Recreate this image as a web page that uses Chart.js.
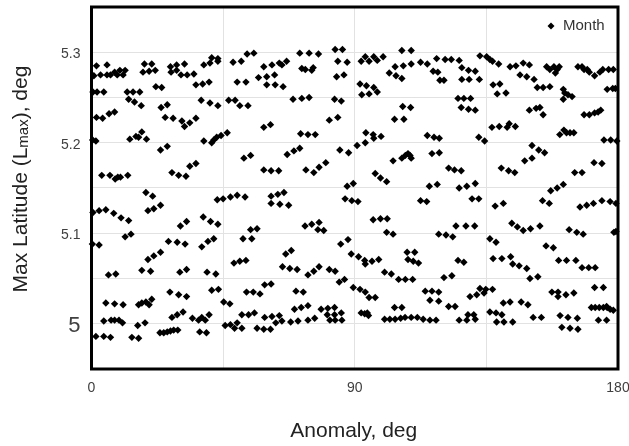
<!DOCTYPE html>
<html><head><meta charset="utf-8">
<script src="https://cdn.jsdelivr.net/npm/chart.js@4.4.1/dist/chart.umd.min.js"></script>
<style>html,body{margin:0;padding:0;background:#fff;}</style>
</head><body>
<canvas id="c" width="629" height="446"></canvas>
<script>
const seriesName = 'Month';
const xTitle = 'Anomaly, deg';
const yTitleParts = ['Max Latitude (L', 'max', '), deg'];
const xTickLabels = ['0', '90', '180'];
const yTickLabels = ['5', '5.1', '5.2', '5.3'];
const xGridValues = [0, 45, 90, 135, 180];
const yGridValues = [4.95, 5.00, 5.05, 5.10, 5.15, 5.20, 5.25, 5.30, 5.35];

// [anomaly (deg), max latitude (deg)] — anomaly 0..57
const pointsLeft = [
[1.7,5.285],[5.3,5.286],[0.8,5.274],[3.1,5.275],[5.3,5.275],[6.5,5.275],[7.9,5.278],[8.8,5.275],[9.7,5.280],[10.8,5.275],[11.5,5.280],[18.1,5.287],[20.6,5.287],[17.6,5.278],[19.7,5.279],[21.8,5.280],[27.0,5.284],[29.1,5.286],[31.8,5.287],[27.2,5.278],[29.1,5.280],[30.6,5.275],[32.7,5.275],[35.0,5.276],[38.4,5.286],[40.5,5.288],[41.1,5.294],[43.2,5.293],[43.2,5.290],[48.4,5.289],[51.2,5.290],[53.2,5.298],[55.5,5.299],
[0.5,5.256],[1.9,5.256],[4.2,5.256],[12.2,5.256],[14.2,5.256],[16.5,5.256],[22.0,5.262],[24.0,5.261],[35.7,5.264],[38.0,5.265],[40.2,5.267],[49.8,5.267],[52.8,5.267],
[12.7,5.248],[14.7,5.245],[17.0,5.241],[23.8,5.239],[25.9,5.242],[37.5,5.247],[40.5,5.244],[43.2,5.241],[46.9,5.247],[49.1,5.247],[50.7,5.241],[53.5,5.241],
[1.7,5.228],[3.8,5.227],[6.0,5.232],[7.9,5.234],[25.2,5.228],[27.9,5.227],[30.9,5.224],[31.8,5.218],[33.6,5.222],[35.7,5.227],
[0.4,5.203],[1.5,5.202],[13.1,5.204],[15.2,5.207],[16.1,5.206],[17.2,5.212],[18.8,5.204],[23.6,5.192],[25.9,5.196],[38.4,5.202],[41.1,5.200],[41.8,5.203],[42.8,5.206],[44.3,5.208],[46.4,5.211],[52.1,5.183],[54.4,5.186],
[3.5,5.164],[6.3,5.164],[8.1,5.160],[9.0,5.162],[9.9,5.162],[12.4,5.164],[27.5,5.167],[29.8,5.164],[32.3,5.163],[33.6,5.174],[35.7,5.177],
[18.6,5.145],[20.9,5.141],[19.3,5.125],[21.3,5.127],[23.6,5.131],
[0.5,5.123],[2.6,5.125],[4.9,5.126],[7.6,5.122],[10.1,5.117],[12.7,5.114],
[43.0,5.137],[45.0,5.138],[47.5,5.140],[49.8,5.142],[52.5,5.140],
[30.4,5.108],[32.5,5.113],[38.2,5.118],[40.7,5.113],[43.2,5.110],
[11.5,5.096],[13.5,5.099],[0.3,5.088],[2.6,5.087],[26.3,5.091],[29.3,5.090],[32.0,5.088],[37.7,5.085],[39.8,5.091],[41.8,5.094],[51.8,5.094],[54.8,5.094],[54.4,5.104],[56.6,5.105],
[19.3,5.071],[21.3,5.075],[23.6,5.079],[17.2,5.059],[20.2,5.058],[5.8,5.054],[8.3,5.055],[30.2,5.057],[32.5,5.060],[39.5,5.057],[42.5,5.055],[48.7,5.067],[50.7,5.069],[52.8,5.070],
[26.8,5.035],[29.8,5.032],[32.5,5.030],[41.1,5.037],[43.4,5.038],[53.0,5.035],
[4.9,5.023],[7.9,5.022],[10.8,5.021],[16.1,5.021],[17.2,5.023],[18.6,5.024],[19.7,5.021],[20.6,5.027],[45.2,5.024],[47.3,5.022],
[27.5,5.007],[29.3,5.010],[31.3,5.013],[34.5,5.006],[36.6,5.004],[37.7,5.007],[38.9,5.004],[40.2,5.010],[51.4,5.010],[53.7,5.010],
[4.2,5.003],[6.7,5.004],[7.9,5.004],[9.4,5.004],[10.6,5.001],[15.8,4.998],[18.3,5.001],
[45.7,4.998],[47.5,4.999],[48.9,4.995],[49.8,5.001],[51.4,4.995],
[23.4,4.990],[24.7,4.990],[25.9,4.991],[27.0,4.992],[28.1,4.993],[29.5,4.993],[37.0,4.991],[39.3,4.990],
[1.5,4.986],[4.2,4.986],[6.5,4.985],[13.8,4.985],[16.1,4.984]
];

// anomaly 55..119
const pointsMiddle = [
[71.2,5.299],[74.4,5.299],[77.6,5.298],[83.3,5.303],[85.8,5.303],[84.2,5.290],[87.4,5.289],[106.1,5.302],[109.3,5.302],[92.2,5.290],[93.6,5.295],[94.9,5.290],[96.5,5.295],[97.7,5.291],[99.7,5.295],[103.8,5.284],[106.6,5.285],[109.3,5.287],[112.5,5.289],[114.8,5.287],[118.0,5.293],
[58.9,5.284],[61.7,5.286],[64.2,5.288],[65.1,5.286],[66.7,5.290],[57.1,5.272],[59.9,5.273],[62.6,5.275],[59.9,5.264],[62.8,5.264],[65.5,5.262],[71.9,5.282],[73.1,5.281],[75.8,5.283],[75.3,5.280],[83.8,5.273],[86.3,5.275],[101.8,5.277],[104.1,5.274],[106.1,5.271],[91.8,5.265],[94.0,5.263],[96.5,5.261],[97.7,5.256],[94.9,5.254],[92.4,5.253],[68.9,5.248],[71.9,5.249],[74.4,5.250],[83.1,5.248],[85.4,5.246],[106.4,5.240],[109.1,5.239],[58.9,5.217],[61.2,5.220],[81.3,5.225],[84.2,5.228],[103.6,5.226],[106.8,5.226],
[71.5,5.210],[74.0,5.209],[76.5,5.209],[93.8,5.211],[96.3,5.209],[96.5,5.205],[99.0,5.207],[93.6,5.200],[90.8,5.197],[114.8,5.208],[117.1,5.206],[118.9,5.205],[66.9,5.187],[69.2,5.191],[71.2,5.194],[84.9,5.192],[87.9,5.189],[103.1,5.180],[106.1,5.183],[107.3,5.186],[108.2,5.188],[108.9,5.186],[109.3,5.183],[116.4,5.188],[118.9,5.189],
[58.9,5.170],[61.4,5.169],[64.0,5.169],[73.3,5.170],[76.0,5.167],[77.8,5.173],[80.1,5.178],[97.0,5.166],[98.8,5.161],[100.9,5.157],[87.4,5.152],[89.5,5.155],[115.5,5.152],[118.2,5.154],
[61.4,5.141],[63.7,5.143],[65.8,5.145],[61.4,5.133],[64.4,5.132],[67.4,5.131],[86.7,5.138],[89.0,5.136],[91.1,5.135],[112.5,5.136],[114.6,5.135],
[73.0,5.108],[75.3,5.110],[77.8,5.112],[77.4,5.104],[79.4,5.103],[96.3,5.115],[98.8,5.116],[101.1,5.116],[100.9,5.101],[103.1,5.099],[85.2,5.088],[87.7,5.093],[118.7,5.099],
[66.4,5.077],[68.3,5.081],[88.8,5.077],[91.3,5.074],[93.4,5.070],[93.6,5.066],[95.9,5.069],[98.2,5.071],[107.9,5.079],[110.5,5.079],[108.2,5.071],[110.0,5.069],[111.8,5.067],
[65.3,5.063],[67.8,5.061],[70.3,5.060],[74.0,5.054],[76.0,5.058],[77.8,5.063],[81.3,5.060],[83.3,5.058],[100.2,5.057],[102.5,5.055],[84.7,5.046],[86.5,5.049],[105.0,5.049],[107.3,5.049],[109.8,5.049],
[55.3,5.035],[57.6,5.033],[59.2,5.043],[61.4,5.044],[69.9,5.036],[72.4,5.035],[89.5,5.040],[91.8,5.038],[93.6,5.035],[94.9,5.029],[97.0,5.029],[114.1,5.036],[116.4,5.036],[118.7,5.035],[115.7,5.026],[118.7,5.025],
[55.7,5.012],[59.2,5.007],[61.7,5.008],[64.2,5.009],[63.0,5.001],[65.1,5.003],[56.6,4.995],[58.9,4.994],[61.2,4.994],[69.4,5.016],[71.7,5.018],[74.0,5.020],[68.1,5.002],[70.6,5.003],[74.0,5.004],[76.3,5.006],
[78.5,5.016],[80.8,5.017],[83.1,5.018],[80.6,5.010],[81.5,5.004],[83.3,5.004],[85.6,5.004],[83.1,5.010],[85.4,5.012],[92.2,5.012],[93.4,5.011],[94.3,5.012],[94.7,5.009],[103.6,5.018],[106.1,5.018],
[100.2,5.005],[102.0,5.005],[103.8,5.005],[105.7,5.006],[107.2,5.007],[109.3,5.007],[111.4,5.007],[113.4,5.005],[115.7,5.004],[117.8,5.004]
];

// anomaly 116..180
const pointsRight = [
[120.9,5.292],[123.0,5.292],[125.7,5.291],[116.8,5.279],[118.4,5.278],[119.1,5.269],[120.5,5.269],[126.6,5.283],[128.9,5.280],[131.2,5.279],[126.6,5.270],[129.1,5.270],[132.6,5.270],[132.8,5.296],[135.1,5.295],[136.2,5.292],[137.1,5.290],[139.2,5.287],[137.3,5.264],[139.6,5.265],[138.7,5.254],[141.7,5.255],
[143.1,5.284],[145.1,5.285],[147.6,5.288],[149.7,5.286],[146.5,5.275],[148.8,5.273],[151.3,5.270],[152.4,5.261],[154.4,5.261],[156.7,5.262],[155.6,5.284],[156.7,5.281],[158.1,5.284],[159.2,5.281],[159.9,5.284],[158.6,5.277],
[161.3,5.259],[161.8,5.255],[162.9,5.253],[164.3,5.251],[161.3,5.248],[166.3,5.284],[167.7,5.284],[168.4,5.281],[169.5,5.281],[170.2,5.278],[172.0,5.274],[173.8,5.278],[174.8,5.281],[176.8,5.281],[178.4,5.281],[176.3,5.259],[178.2,5.260],[179.1,5.260],
[125.3,5.249],[127.3,5.249],[129.6,5.249],[126.4,5.239],[128.9,5.237],[131.2,5.236],[149.7,5.236],[152.0,5.238],[153.3,5.239],[154.4,5.231],[168.4,5.231],[170.2,5.231],[172.0,5.233],[173.2,5.234],[174.1,5.236],[136.9,5.217],[139.4,5.218],[142.8,5.221],[144.9,5.218],[142.1,5.217],
[160.1,5.209],[161.5,5.214],[162.4,5.211],[163.6,5.211],[164.9,5.211],[175.2,5.203],[177.5,5.203],[179.6,5.202],[132.4,5.206],[134.4,5.202],[150.6,5.197],[152.9,5.192],[154.9,5.189],[148.1,5.180],[150.6,5.183],
[122.1,5.172],[124.1,5.170],[126.4,5.169],[140.1,5.172],[142.6,5.169],[144.7,5.167],[165.2,5.167],[167.7,5.167],[171.8,5.178],[174.5,5.177],
[125.7,5.150],[128.3,5.152],[131.2,5.155],[157.0,5.147],[159.2,5.150],[161.3,5.154],[130.1,5.138],[132.4,5.138],[138.0,5.130],[140.8,5.133],[154.2,5.136],[156.5,5.133],[167.0,5.129],[169.3,5.131],[171.6,5.133],[174.5,5.136],[177.3,5.135],[179.3,5.133],
[124.6,5.108],[128.0,5.108],[131.0,5.108],[121.2,5.098],[123.5,5.096],[143.7,5.111],[145.6,5.107],[147.6,5.103],[150.1,5.105],[153.3,5.108],[163.3,5.104],[165.9,5.101],[168.1,5.099],[178.6,5.101],[179.3,5.102],[136.2,5.094],[138.3,5.090],[155.4,5.086],[157.9,5.084],
[125.3,5.070],[127.3,5.068],[137.3,5.072],[140.3,5.072],[143.3,5.074],[144.0,5.066],[146.2,5.064],[148.8,5.061],[149.9,5.050],[152.6,5.052],[159.7,5.070],[162.4,5.070],[165.6,5.070],[167.7,5.062],[170.0,5.062],[172.2,5.062],[120.5,5.051],[123.2,5.053],
[122.1,5.019],[124.3,5.019],[129.4,5.030],[131.7,5.032],[132.8,5.039],[134.2,5.034],[134.8,5.038],[137.1,5.038],[140.8,5.023],[143.1,5.024],[146.9,5.024],[149.2,5.021],[157.4,5.035],[159.5,5.035],[159.5,5.030],[162.2,5.032],[164.9,5.034],[172.0,5.040],[175.0,5.040],
[170.9,5.018],[172.2,5.018],[173.6,5.018],[175.0,5.018],[176.3,5.018],[177.3,5.016],[178.4,5.015],[176.1,5.019],[136.2,5.013],[138.3,5.012],[140.3,5.010],[151.0,5.007],[153.8,5.007],[160.2,5.009],[162.9,5.007],[166.1,5.006],
[125.7,5.004],[128.3,5.004],[128.7,5.010],[130.7,5.010],[131.2,5.005],[138.5,5.002],[141.0,5.002],[144.0,5.002],[160.8,4.996],[163.6,4.995],[166.3,4.994],[173.3,5.004],[176.1,5.004]
];

const FONT = "'Liberation Sans', Arial, Helvetica, sans-serif";
const monthData = [...pointsLeft, ...pointsMiddle, ...pointsRight].map(p => ({x: p[0], y: p[1]}));

function yLabelFor(v) {
  for (const t of yTickLabels) { if (Math.abs(parseFloat(t) - v) < 1e-6) return t; }
  return '';
}

const framePlugin = {
  id: 'frameAndTitles',
  beforeDatasetsDraw(chart) {
    const {ctx, chartArea: a} = chart;
    ctx.save();
    ctx.strokeStyle = '#000';
    ctx.lineWidth = 3;
    ctx.strokeRect(a.left, a.top, a.right - a.left, a.bottom - a.top);
    ctx.restore();
  },
  afterDraw(chart) {
    const {ctx, chartArea: a} = chart;
    ctx.save();
    ctx.fillStyle = '#222';
    ctx.font = '21px ' + FONT;
    ctx.textAlign = 'center';
    ctx.textBaseline = 'middle';
    ctx.fillText(xTitle, (a.left + a.right) / 2 - 1, 431);
    const sizes = [21, 15, 21];
    const widths = yTitleParts.map((t, i) => { ctx.font = sizes[i] + 'px ' + FONT; return ctx.measureText(t).width; });
    const total = widths.reduce((s, w) => s + w, 0);
    ctx.translate(19, 179);
    ctx.rotate(-Math.PI / 2);
    ctx.textAlign = 'left';
    ctx.textBaseline = 'alphabetic';
    let xo = -total / 2;
    yTitleParts.forEach((t, i) => {
      ctx.font = sizes[i] + 'px ' + FONT;
      ctx.fillText(t, xo, i === 1 ? 9 : 7.5);
      xo += widths[i];
    });
    ctx.restore();
    ctx.save();
    const mx = a.right - 67, my = a.top + 19;
    ctx.fillStyle = '#000';
    ctx.beginPath();
    ctx.moveTo(mx, my - 3.5); ctx.lineTo(mx + 3.5, my); ctx.lineTo(mx, my + 3.5); ctx.lineTo(mx - 3.5, my);
    ctx.closePath(); ctx.fill();
    ctx.fillStyle = '#333';
    ctx.font = '15px ' + FONT;
    ctx.textAlign = 'left';
    ctx.textBaseline = 'middle';
    ctx.fillText(seriesName, mx + 12, my);
    ctx.restore();
  }
};

new Chart(document.getElementById('c'), {
  type: 'scatter',
  data: {
    datasets: [{
      label: seriesName,
      data: monthData,
      pointStyle: 'rectRot',
      pointRadius: 3.7,
      pointHoverRadius: 3.7,
      backgroundColor: '#000',
      borderColor: '#000',
      borderWidth: 0,
      clip: false
    }]
  },
  options: {
    responsive: false,
    animation: false,
    devicePixelRatio: 1,
    layout: {padding: {top: 7, right: 0, left: 0, bottom: 0}},
    plugins: {legend: {display: false}, tooltip: {enabled: false}},
    scales: {
      x: {
        type: 'linear', min: 0, max: 180,
        afterBuildTicks: s => { s.ticks = xGridValues.map(v => ({value: v})); },
        afterFit: s => { s.height = 77; s.paddingRight = 11; s.paddingLeft = 0; },
        grid: {color: '#e2e2e2', lineWidth: 1, drawTicks: false},
        border: {display: false},
        ticks: {
          padding: 11, color: '#404040', maxRotation: 0, autoSkip: false,
          font: {family: FONT, size: 14},
          callback: v => xTickLabels.includes(String(v)) ? String(v) : ''
        }
      },
      y: {
        type: 'linear', min: 4.95, max: 5.35,
        afterBuildTicks: s => { s.ticks = yGridValues.map(v => ({value: v})); },
        afterFit: s => { s.width = 91.5; s.paddingTop = 0; s.paddingBottom = 0; },
        grid: {color: '#e2e2e2', lineWidth: 1, drawTicks: false},
        border: {display: false},
        ticks: {
          padding: 11, labelOffset: 2, color: '#404040', autoSkip: false,
          font: c => ({family: FONT, size: (c.tick && Math.abs(c.tick.value - 5) < 1e-6) ? 22 : 14}),
          callback: v => yLabelFor(v)
        }
      }
    }
  },
  plugins: [framePlugin]
});
</script>
</body></html>
